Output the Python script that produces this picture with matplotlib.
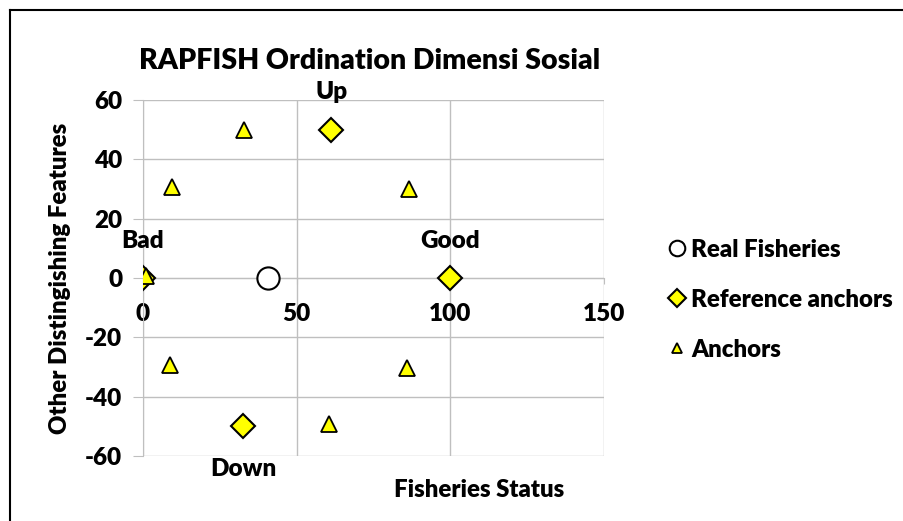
import matplotlib.pyplot as plt
from matplotlib.lines import Line2D

plt.rcParams['font.family'] = ['Lato', 'DejaVu Sans']
plt.rcParams['font.weight'] = 'heavy'
plt.rcParams['axes.unicode_minus'] = False

# Real fisheries position
real_x = [40.7]
real_y = [0]

# Reference anchors: Bad, Good, Up, Down
ref_x = [0, 100, 61.2, 32.6]
ref_y = [0, 0, 50, -49.8]
ref_labels = ["Bad", "Good", "Up", "Down"]

# Other anchors
anc_x = [0.9, 9.5, 32.8, 86.7, 8.7, 85.8, 60.5]
anc_y = [0.8, 30.7, 49.8, 30.1, -29.3, -30.2, -49.3]

grid_col = "#BFBFBF"

fig = plt.figure(figsize=(9.04, 5.21), dpi=100)
ax = fig.add_axes([143/904, 65/521, 461/904, 356/521])

ax.set_xlim(0, 150)
ax.set_ylim(-60, 60)
ax.set_xticks([0, 50, 100, 150])
ax.set_yticks(range(-60, 61, 20))
ax.grid(True, color=grid_col, linewidth=1.0)
ax.set_axisbelow(True)

for s in ['top', 'right']:
    ax.spines[s].set_visible(False)
ax.spines['bottom'].set_position(('data', 0))
ax.spines['left'].set_position(('data', 0))
ax.spines['bottom'].set_color(grid_col)
ax.spines['left'].set_color(grid_col)
ax.tick_params(axis='x', colors=grid_col, length=4, pad=14, labelsize=17.5, labelcolor='black')
ax.tick_params(axis='y', colors=grid_col, length=7, pad=8, labelsize=17.5, labelcolor='black')

ax.plot(real_x, real_y, 'o', ms=16, mfc='white', mec='black', mew=1.5,
        linestyle='none', label="Real Fisheries", zorder=4)
ax.plot(ref_x, ref_y, 'D', ms=12.5, mfc='#FFFF00', mec='black', mew=1.5,
        linestyle='none', label="Reference anchors", zorder=3)
ax.plot(anc_x, anc_y, '^', ms=11, mfc='#FFFF00', mec='black', mew=1.3,
        linestyle='none', label="Anchors", zorder=5)

# data labels on reference anchors
offsets = [(0, 27), (0, 27), (0, 27), (0, -31)]
for x, y, t, off in zip(ref_x, ref_y, ref_labels, offsets):
    ax.annotate(t, (x, y), xytext=off, textcoords='offset points',
                ha='center', va='center', fontsize=17.5)

fig.text(370/904, 1 - 61/521, "RAPFISH Ordination Dimensi Sosial",
         ha='center', va='center', fontsize=20.5)
fig.text(60/904, 1 - 278/521, "Other Distingishing Features", rotation=90,
         ha='center', va='center', fontsize=17.3)
fig.text(479/904, 1 - 490/521, "Fisheries Status",
         ha='center', va='center', fontsize=17.3)

leg = fig.legend(loc='upper left', bbox_to_anchor=(648/904, 1 - 217/521),
                 frameon=False, fontsize=17.3, handlelength=0.6, handletextpad=0.3,
                 labelspacing=1.17, markerscale=0.7)

# chart area border (only left and top edges visible)
bx, by = 10/904, 1 - 10/521
fig.add_artist(Line2D([bx, bx], [0, by], transform=fig.transFigure,
                      color='black', linewidth=1.5))
fig.add_artist(Line2D([bx, 1], [by, by], transform=fig.transFigure,
                      color='black', linewidth=1.5))

fig.savefig("out.png", dpi=100)
